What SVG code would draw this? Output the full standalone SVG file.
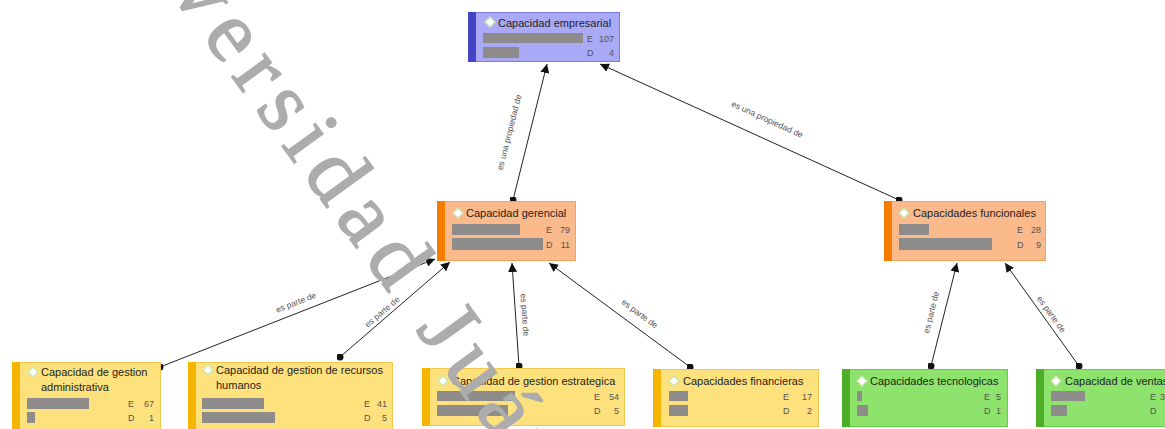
<svg xmlns="http://www.w3.org/2000/svg" width="1165" height="429" viewBox="0 0 1165 429">
<defs>
<marker id="arr" viewBox="0 0 10 10" refX="10" refY="5" markerWidth="9" markerHeight="9" markerUnits="userSpaceOnUse" orient="auto"><path d="M0,0 L10,5 L0,10 z" fill="#111"/></marker>
<marker id="dot" viewBox="0 0 10 10" refX="5" refY="5" markerWidth="7" markerHeight="7" markerUnits="userSpaceOnUse"><circle cx="5" cy="5" r="5" fill="#111"/></marker>
</defs>
<style>
.t{font-family:"Liberation Sans",Arial,sans-serif;font-size:11px;fill:#1e1e1e}
.n{font-family:"Liberation Sans",Arial,sans-serif;font-size:9px;fill:#555}
.l{font-family:"Liberation Sans",Arial,sans-serif;font-size:8.5px;fill:#555}
.bar{fill:#8e8b8b}
.dia{fill:#fff;stroke:#c6e6b0;stroke-width:1.4}
.c{stroke:#222;stroke-width:1;fill:none;marker-start:url(#dot);marker-end:url(#arr)}
.wm{font-family:"Liberation Serif","Times New Roman",serif;font-size:88px;fill:#acacac;stroke:#acacac;stroke-width:1.5;letter-spacing:11px}
</style>
<rect width="1165" height="429" fill="#fff"/>
<g id="connectors">
<path class="c" d="M513,200 L547,64"/>
<path class="c" d="M899,200 L600,64"/>
<path class="c" d="M160,367 L435,259"/>
<path class="c" d="M340,357 L450,262"/>
<path class="c" d="M519,366 L512,263"/>
<path class="c" d="M690,367 L549,263"/>
<path class="c" d="M931,366 L957,263"/>
<path class="c" d="M1079,366 L1005,263"/>
<text class="l" text-anchor="middle" transform="translate(512,133) rotate(-75.7)">es una propiedad de</text>
<text class="l" text-anchor="middle" transform="translate(766,122) rotate(24.5)">es una propiedad de</text>
<text class="l" text-anchor="middle" transform="translate(297,305) rotate(-21.6)">es parte de</text>
<text class="l" text-anchor="middle" transform="translate(384,314) rotate(-40)">es parte de</text>
<text class="l" text-anchor="middle" transform="translate(522,315) rotate(86)">es parte de</text>
<text class="l" text-anchor="middle" transform="translate(638,316) rotate(36.5)">es parte de</text>
<text class="l" text-anchor="middle" transform="translate(934,313) rotate(-76)">es parte de</text>
<text class="l" text-anchor="middle" transform="translate(1049,316) rotate(54)">es parte de</text>
</g>
<g id="n-empresarial">
<rect x="468.5" y="12.5" width="151" height="49" fill="#a9a9f6" stroke="#7a7ae6"/>
<rect x="468" y="12" width="8" height="50" fill="#4444c4"/>
<polygon class="dia" points="490,17 495,22 490,27 485,22"/>
<text class="t" x="498" y="27">Capacidad empresarial</text>
<rect class="bar" x="483" y="33" width="100" height="10"/>
<rect class="bar" x="483" y="47" width="36" height="11"/>
<text class="n" x="587" y="42">E</text><text class="n" x="614" y="42" text-anchor="end">107</text>
<text class="n" x="587" y="56">D</text><text class="n" x="614" y="56" text-anchor="end">4</text>
</g>
<g id="n-gerencial">
<rect x="437.5" y="201.5" width="138" height="59" fill="#fbba8c" stroke="#f4a15c"/>
<rect x="437" y="201" width="8" height="60" fill="#f57c00"/>
<polygon class="dia" points="458,208 463,213 458,218 453,213"/>
<text class="t" x="466" y="217">Capacidad gerencial</text>
<rect class="bar" x="452" y="224" width="68" height="11"/>
<rect class="bar" x="452" y="238" width="91" height="12"/>
<text class="n" x="546" y="233">E</text><text class="n" x="570" y="233" text-anchor="end">79</text>
<text class="n" x="546" y="248">D</text><text class="n" x="570" y="248" text-anchor="end">11</text>
</g>
<g id="n-funcionales">
<rect x="884.5" y="201.5" width="161" height="59" fill="#fbba8c" stroke="#f4a15c"/>
<rect x="884" y="201" width="8" height="60" fill="#f57c00"/>
<polygon class="dia" points="904,208 909,213 904,218 899,213"/>
<text class="t" x="913" y="217">Capacidades funcionales</text>
<rect class="bar" x="899" y="224" width="30" height="11"/>
<rect class="bar" x="899" y="238" width="93" height="12"/>
<text class="n" x="1017" y="233">E</text><text class="n" x="1041" y="233" text-anchor="end">28</text>
<text class="n" x="1017" y="248">D</text><text class="n" x="1041" y="248" text-anchor="end">9</text>
</g>
<g id="n-administrativa">
<rect x="12.5" y="362.5" width="148" height="70" fill="#fde17c" stroke="#f2c84e"/>
<rect x="12" y="362" width="8" height="70" fill="#f6b500"/>
<polygon class="dia" points="33,367 38,372 33,377 28,372"/>
<text class="t" x="41" y="376">Capacidad de gestion</text>
<text class="t" x="41" y="391">administrativa</text>
<rect class="bar" x="27" y="398" width="62" height="11"/>
<rect class="bar" x="27" y="412" width="8" height="11"/>
<text class="n" x="128" y="407">E</text><text class="n" x="154" y="407" text-anchor="end">67</text>
<text class="n" x="128" y="421">D</text><text class="n" x="154" y="421" text-anchor="end">1</text>
</g>
<g id="n-rrhh">
<rect x="188.5" y="362.5" width="204" height="70" fill="#fde17c" stroke="#f2c84e"/>
<rect x="188" y="362" width="8" height="70" fill="#f6b500"/>
<polygon class="dia" points="208,365 213,370 208,375 203,370"/>
<text class="t" x="216" y="374">Capacidad de gestion de recursos</text>
<text class="t" x="216" y="389">humanos</text>
<rect class="bar" x="202" y="398" width="62" height="11"/>
<rect class="bar" x="202" y="412" width="73" height="11"/>
<text class="n" x="364" y="407">E</text><text class="n" x="387" y="407" text-anchor="end">41</text>
<text class="n" x="364" y="421">D</text><text class="n" x="387" y="421" text-anchor="end">5</text>
</g>
<g id="n-estrategica">
<rect x="422.5" y="368.5" width="202" height="57" fill="#fde17c" stroke="#f2c84e"/>
<rect x="422" y="368" width="8" height="58" fill="#f6b500"/>
<polygon class="dia" points="443,376 448,381 443,386 438,381"/>
<text class="t" x="452" y="385">Capacidad de gestion estrategica</text>
<rect class="bar" x="437" y="391" width="78" height="10"/>
<rect class="bar" x="437" y="405" width="71" height="11"/>
<text class="n" x="594" y="400">E</text><text class="n" x="619" y="400" text-anchor="end">54</text>
<text class="n" x="594" y="414">D</text><text class="n" x="619" y="414" text-anchor="end">5</text>
</g>
<g id="n-financieras">
<rect x="653.5" y="369.5" width="165" height="57" fill="#fde17c" stroke="#f2c84e"/>
<rect x="653" y="369" width="8" height="58" fill="#f6b500"/>
<polygon class="dia" points="674,376 679,381 674,386 669,381"/>
<text class="t" x="683" y="385">Capacidades financieras</text>
<rect class="bar" x="669" y="391" width="19" height="10"/>
<rect class="bar" x="669" y="405" width="19" height="11"/>
<text class="n" x="783" y="400">E</text><text class="n" x="812" y="400" text-anchor="end">17</text>
<text class="n" x="783" y="414">D</text><text class="n" x="812" y="414" text-anchor="end">2</text>
</g>
<g id="n-tecnologicas">
<rect x="842.5" y="369.5" width="165" height="57" fill="#8de36b" stroke="#6cc94a"/>
<rect x="842" y="369" width="8" height="58" fill="#4caf27"/>
<polygon class="dia" points="862,376 867,381 862,386 857,381"/>
<text class="t" x="870" y="385">Capacidades tecnologicas</text>
<rect class="bar" x="857" y="391" width="5" height="10"/>
<rect class="bar" x="857" y="405" width="11" height="11"/>
<text class="n" x="984" y="400">E</text><text class="n" x="1001" y="400" text-anchor="end">5</text>
<text class="n" x="984" y="414">D</text><text class="n" x="1001" y="414" text-anchor="end">1</text>
</g>
<g id="n-ventas">
<rect x="1036.5" y="369.5" width="165" height="57" fill="#8de36b" stroke="#6cc94a"/>
<rect x="1036" y="369" width="8" height="58" fill="#4caf27"/>
<polygon class="dia" points="1056,376 1061,381 1056,386 1051,381"/>
<text class="t" x="1065" y="385">Capacidad de ventas</text>
<rect class="bar" x="1051" y="391" width="34" height="10"/>
<rect class="bar" x="1051" y="405" width="16" height="11"/>
<text class="n" x="1150" y="400">E</text><text class="n" x="1160" y="400">3</text>
<text class="n" x="1150" y="414">D</text>
</g>
<text class="wm" transform="translate(72,-143) rotate(54)">Universidad Juárez</text>
</svg>
